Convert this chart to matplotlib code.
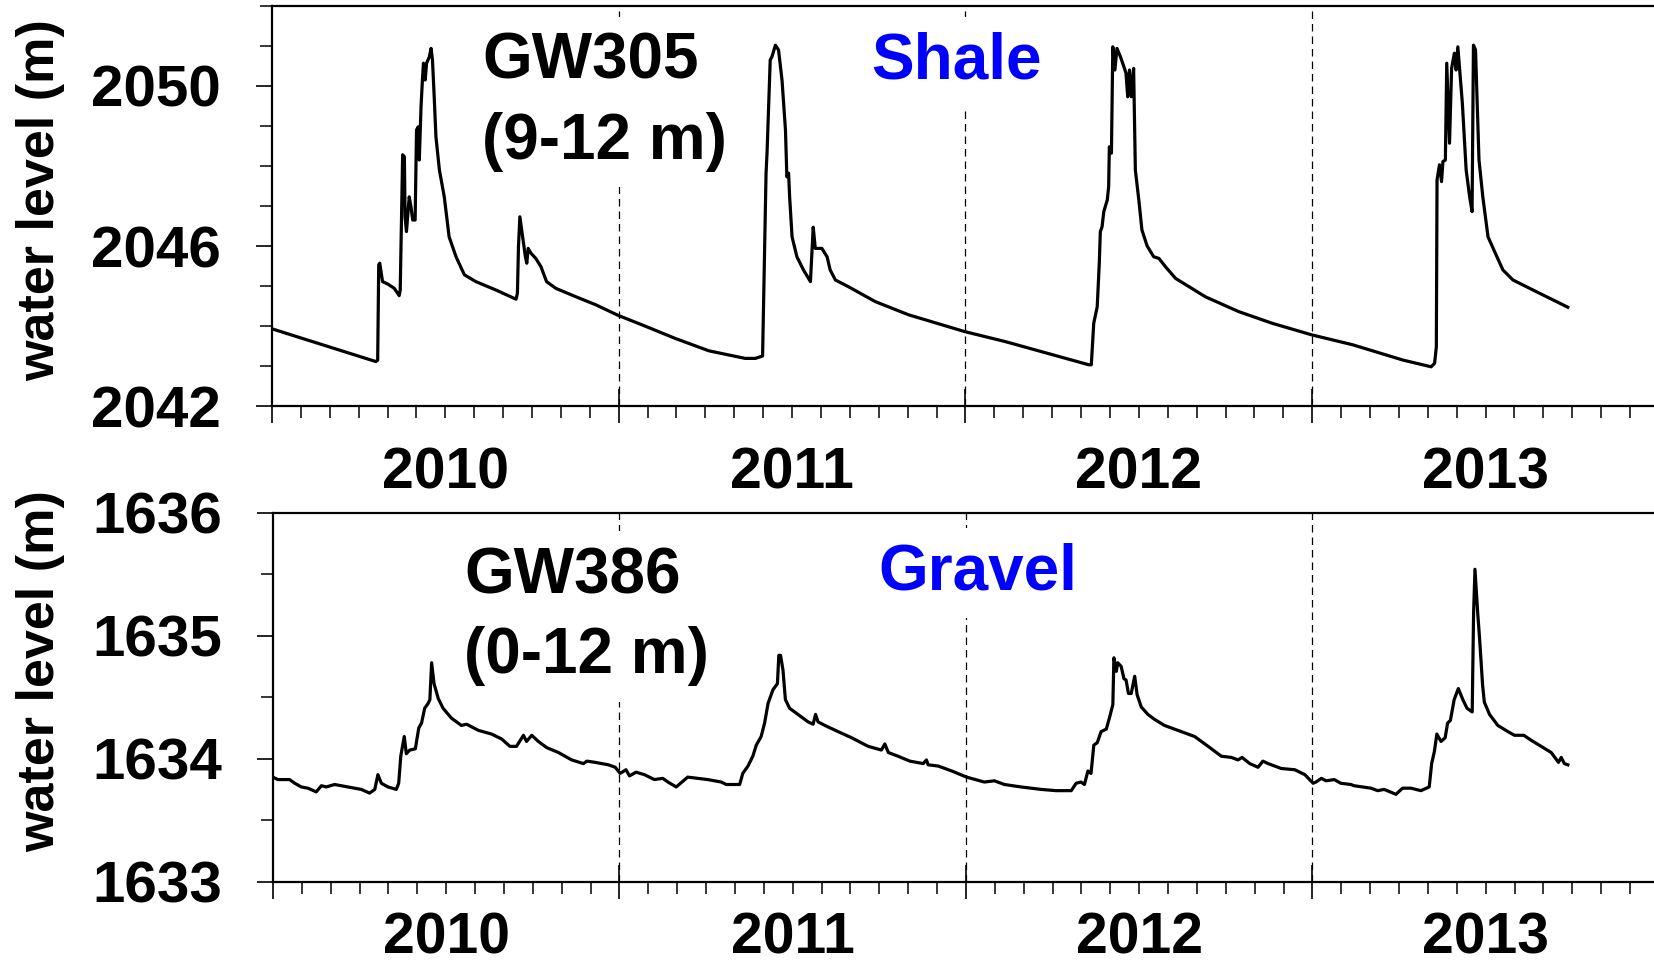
import matplotlib as mpl
import matplotlib.pyplot as plt
from matplotlib.ticker import MultipleLocator, NullFormatter, FormatStrFormatter

mpl.rcParams['font.family'] = 'Liberation Sans'
mpl.rcParams['font.weight'] = 'bold'
mpl.rcParams['axes.labelweight'] = 'bold'

# GW305 (shale, screened 9-12 m): decimal year, water level (m)
gw305_t = [
    2010.000, 2010.300, 2010.305, 2010.308, 2010.311, 2010.319, 2010.334, 2010.353, 2010.367, 2010.370,
    2010.377, 2010.382, 2010.384, 2010.388, 2010.396, 2010.401, 2010.406, 2010.413, 2010.417, 2010.422,
    2010.425, 2010.430, 2010.434, 2010.437, 2010.442, 2010.446, 2010.454, 2010.459, 2010.463, 2010.468,
    2010.473, 2010.483, 2010.497, 2010.511, 2010.531, 2010.555, 2010.588, 2010.646, 2010.704, 2010.708,
    2010.711, 2010.715, 2010.723, 2010.731, 2010.735, 2010.739, 2010.747, 2010.761, 2010.776, 2010.792,
    2010.819, 2010.877, 2010.934, 2011.000,
    2011.067, 2011.163, 2011.260, 2011.365, 2011.394, 2011.415, 2011.420, 2011.425, 2011.428, 2011.437,
    2011.442, 2011.452, 2011.461, 2011.471, 2011.481, 2011.485, 2011.490, 2011.493, 2011.500, 2011.514,
    2011.533, 2011.553, 2011.561, 2011.567, 2011.586, 2011.601, 2011.610, 2011.625, 2011.663, 2011.740,
    2011.836, 2011.932, 2011.998,
    2012.115, 2012.211, 2012.356, 2012.363, 2012.370, 2012.380, 2012.386, 2012.389, 2012.394, 2012.399,
    2012.409, 2012.413, 2012.415, 2012.421, 2012.425, 2012.431, 2012.437, 2012.447, 2012.457, 2012.463,
    2012.468, 2012.473, 2012.478, 2012.485, 2012.490, 2012.500, 2012.509, 2012.524, 2012.543, 2012.558,
    2012.577, 2012.606, 2012.692, 2012.788, 2012.884, 2012.998,
    2013.117, 2013.261, 2013.343, 2013.353, 2013.358, 2013.360, 2013.367, 2013.373, 2013.377, 2013.384,
    2013.388, 2013.396, 2013.402, 2013.410, 2013.415, 2013.420, 2013.427, 2013.433, 2013.444, 2013.454,
    2013.461, 2013.465, 2013.471, 2013.481, 2013.492, 2013.507, 2013.526, 2013.550, 2013.579, 2013.646,
    2013.737,
]
gw305_wl = [
    2043.93, 2043.11, 2043.15, 2045.53, 2045.57, 2045.11, 2045.05, 2044.94, 2044.76, 2044.90,
    2048.28, 2048.23, 2046.73, 2046.36, 2047.23, 2046.98, 2046.65, 2046.65, 2048.90, 2048.98,
    2048.15, 2049.48, 2050.15, 2050.57, 2050.15, 2050.57, 2050.73, 2050.94, 2050.65, 2049.73,
    2048.73, 2047.90, 2047.23, 2046.23, 2045.73, 2045.28, 2045.11, 2044.90, 2044.67, 2044.82,
    2045.98, 2046.73, 2046.23, 2045.73, 2045.57, 2045.94, 2045.82, 2045.69, 2045.48, 2045.11,
    2044.94, 2044.73, 2044.53, 2044.26,
    2044.03, 2043.69, 2043.38, 2043.19, 2043.19, 2043.25, 2045.57, 2047.82, 2048.36, 2050.65,
    2050.73, 2051.02, 2050.90, 2050.15, 2048.90, 2047.73, 2047.82, 2047.23, 2046.23, 2045.73,
    2045.40, 2045.11, 2046.47, 2045.94, 2045.94, 2045.73, 2045.40, 2045.15, 2044.98, 2044.61,
    2044.28, 2044.03, 2043.86,
    2043.61, 2043.38, 2043.03, 2043.03, 2044.07, 2044.48, 2045.57, 2046.36, 2046.48, 2046.86,
    2047.15, 2047.48, 2048.48, 2048.32, 2050.98, 2050.40, 2050.94, 2050.73, 2050.48, 2050.32,
    2049.73, 2050.40, 2049.73, 2050.44, 2047.90, 2047.15, 2046.40, 2046.00, 2045.73, 2045.69,
    2045.48, 2045.19, 2044.73, 2044.36, 2044.07, 2043.78,
    2043.53, 2043.15, 2042.98, 2043.07, 2043.48, 2047.65, 2048.03, 2047.61, 2048.11, 2048.15,
    2050.57, 2048.57, 2050.44, 2050.82, 2050.40, 2050.98, 2050.23, 2049.57, 2047.90, 2047.23,
    2046.86, 2051.02, 2050.90, 2048.15, 2047.23, 2046.23, 2045.86, 2045.40, 2045.15, 2044.86,
    2044.47,
]

# GW386 (gravel, screened 0-12 m)
gw386_t = [
    2010.000, 2010.014, 2010.048, 2010.063, 2010.082, 2010.101, 2010.125, 2010.140, 2010.154, 2010.178,
    2010.217, 2010.255, 2010.279, 2010.294, 2010.303, 2010.313, 2010.332, 2010.356, 2010.363, 2010.369,
    2010.379, 2010.385, 2010.395, 2010.411, 2010.421, 2010.429, 2010.438, 2010.448, 2010.453, 2010.458,
    2010.465, 2010.477, 2010.491, 2010.515, 2010.544, 2010.559, 2010.593, 2010.631, 2010.660, 2010.684,
    2010.703, 2010.723, 2010.732, 2010.747, 2010.766, 2010.790, 2010.824, 2010.862, 2010.896, 2010.906,
    2010.930, 2010.968, 2010.988, 2011.002,
    2011.019, 2011.029, 2011.048, 2011.072, 2011.101, 2011.125, 2011.140, 2011.164, 2011.197, 2011.255,
    2011.294, 2011.308, 2011.347, 2011.356, 2011.371, 2011.385, 2011.395, 2011.409, 2011.419, 2011.429,
    2011.443, 2011.456, 2011.460, 2011.465, 2011.472, 2011.479, 2011.491, 2011.515, 2011.544, 2011.559,
    2011.566, 2011.573, 2011.593, 2011.631, 2011.670, 2011.718, 2011.756, 2011.766, 2011.776, 2011.804,
    2011.838, 2011.877, 2011.886, 2011.891, 2011.920, 2011.959, 2012.002,
    2012.053, 2012.082, 2012.111, 2012.159, 2012.217, 2012.260, 2012.304, 2012.318, 2012.332, 2012.342,
    2012.352, 2012.361, 2012.369, 2012.379, 2012.390, 2012.405, 2012.414, 2012.424, 2012.427, 2012.434,
    2012.438, 2012.448, 2012.456, 2012.462, 2012.469, 2012.477, 2012.487, 2012.494, 2012.506, 2012.525,
    2012.544, 2012.573, 2012.621, 2012.660, 2012.699, 2012.737, 2012.766, 2012.785, 2012.797, 2012.819,
    2012.843, 2012.857, 2012.872, 2012.910, 2012.949, 2012.978, 2013.002,
    2013.010, 2013.026, 2013.039, 2013.063, 2013.082, 2013.111, 2013.120, 2013.169, 2013.188, 2013.207,
    2013.241, 2013.260, 2013.284, 2013.313, 2013.337, 2013.344, 2013.352, 2013.359, 2013.371, 2013.383,
    2013.390, 2013.398, 2013.409, 2013.421, 2013.434, 2013.446, 2013.461, 2013.465, 2013.469, 2013.477,
    2013.482, 2013.491, 2013.496, 2013.511, 2013.535, 2013.564, 2013.583, 2013.610, 2013.631, 2013.660,
    2013.689, 2013.710, 2013.718, 2013.727, 2013.737,
]
gw386_wl = [
    1633.85, 1633.83, 1633.83, 1633.80, 1633.77, 1633.76, 1633.73, 1633.78, 1633.77, 1633.79,
    1633.77, 1633.75, 1633.72, 1633.75, 1633.87, 1633.80, 1633.77, 1633.75, 1633.80, 1634.02,
    1634.18, 1634.04, 1634.07, 1634.08, 1634.25, 1634.29, 1634.41, 1634.45, 1634.48, 1634.78,
    1634.61, 1634.49, 1634.41, 1634.33, 1634.27, 1634.28, 1634.23, 1634.20, 1634.16, 1634.10,
    1634.10, 1634.19, 1634.14, 1634.19, 1634.14, 1634.09, 1634.05, 1633.99, 1633.96, 1633.98,
    1633.97, 1633.95, 1633.93, 1633.88,
    1633.91, 1633.86, 1633.89, 1633.87, 1633.83, 1633.84, 1633.81, 1633.77, 1633.85, 1633.83,
    1633.81, 1633.79, 1633.79, 1633.88, 1633.94, 1634.02, 1634.11, 1634.18, 1634.29, 1634.45,
    1634.56, 1634.61, 1634.84, 1634.84, 1634.72, 1634.48, 1634.41, 1634.36, 1634.30, 1634.28,
    1634.36, 1634.30, 1634.27, 1634.22, 1634.17, 1634.10, 1634.07, 1634.12, 1634.05, 1634.02,
    1633.98, 1633.96, 1633.99, 1633.95, 1633.94, 1633.90, 1633.85,
    1633.81, 1633.82, 1633.79, 1633.77, 1633.75, 1633.74, 1633.74, 1633.80, 1633.81, 1633.79,
    1633.90, 1633.88, 1634.11, 1634.13, 1634.22, 1634.24, 1634.33, 1634.44, 1634.82, 1634.71,
    1634.78, 1634.75, 1634.65, 1634.64, 1634.53, 1634.53, 1634.67, 1634.52, 1634.42, 1634.36,
    1634.32, 1634.27, 1634.22, 1634.18, 1634.10, 1634.02, 1634.01, 1633.99, 1634.01, 1633.96,
    1633.93, 1633.98, 1633.96, 1633.92, 1633.91, 1633.87, 1633.80,
    1633.81, 1633.84, 1633.82, 1633.83, 1633.80, 1633.79, 1633.78, 1633.76, 1633.74, 1633.75,
    1633.71, 1633.76, 1633.76, 1633.74, 1633.77, 1633.96, 1634.06, 1634.20, 1634.14, 1634.17,
    1634.29, 1634.31, 1634.48, 1634.57, 1634.48, 1634.41, 1634.38, 1635.18, 1635.54, 1635.18,
    1634.99, 1634.60, 1634.46, 1634.36, 1634.27, 1634.22, 1634.19, 1634.19, 1634.15, 1634.10,
    1634.05, 1633.97, 1634.01, 1633.96, 1633.95,
]

years = [2010, 2011, 2012, 2013]
gw305_yticks = [2042, 2046, 2050]
gw386_yticks = [1633, 1634, 1635, 1636]


def style_axis(ax, ylim, yticks, yminor, year_label_y):
    ax.set_xlim(2010, 2014)
    ax.set_ylim(*ylim)
    ax.spines['right'].set_visible(False)
    for side in ['left', 'bottom', 'top']:
        ax.spines[side].set_linewidth(1.6)

    # years as major ticks, months as minor
    ax.xaxis.set_major_locator(MultipleLocator(1))
    ax.xaxis.set_minor_locator(MultipleLocator(1 / 12))
    ax.xaxis.set_major_formatter(NullFormatter())
    ax.tick_params(axis='x', which='major', direction='inout', length=25, width=1.2)
    ax.tick_params(axis='x', which='minor', direction='out', length=8.6, width=1.1)

    ax.set_yticks(yticks)
    ax.yaxis.set_minor_locator(MultipleLocator(yminor))
    ax.yaxis.set_major_formatter(FormatStrFormatter('%d'))
    ax.tick_params(axis='y', which='major', direction='out', length=11.5, width=1.2,
                   pad=25, labelsize=42)
    ax.tick_params(axis='y', which='minor', direction='out', length=8.6, width=1.1)

    for yr in years[1:]:
        ax.axvline(yr, color='k', lw=0.9, ls=(0, (6, 4)), zorder=1)
    for yr in years:
        ax.text(yr + 0.5, year_label_y, str(yr), transform=ax.get_xaxis_transform(),
                ha='center', va='top', fontsize=41, clip_on=False)

    ax.set_ylabel('water level (m)', fontsize=37.5, fontweight='bold')


box = dict(boxstyle='square,pad=0.24', fc='white', ec='none')

fig = plt.figure(figsize=(16.54, 9.66), dpi=100)
ax1 = fig.add_axes([0.1644, 0.5797, 0.8386, 0.4141])
ax2 = fig.add_axes([0.1650, 0.0873, 0.8380, 0.3820])

ax1.plot(gw305_t, gw305_wl, color='k', lw=2.3, zorder=2)
style_axis(ax1, (2042, 2052), gw305_yticks, 1, -0.10)
ax1.yaxis.set_label_coords(-0.149, 0.515)
ax1.text(0.1514, 0.935, 'GW305\n(9-12 m)', transform=ax1.transAxes, ha='left', va='top',
         fontsize=46, linespacing=1.42, bbox=box, zorder=3)
ax1.text(0.432, 0.935, 'Shale', color='#0000ff', transform=ax1.transAxes, ha='left', va='top',
         fontsize=46, bbox=box, zorder=3)

ax2.plot(gw386_t, gw386_wl, color='k', lw=2.3, zorder=2)
style_axis(ax2, (1633, 1636), gw386_yticks, 0.5, -0.08)
ax2.yaxis.set_label_coords(-0.150, 0.571)
ax2.text(0.138, 0.908, 'GW386\n(0-12 m)', transform=ax2.transAxes, ha='left', va='top',
         fontsize=46, linespacing=1.42, bbox=box, zorder=3)
ax2.text(0.4365, 0.918, 'Gravel', color='#0000ff', transform=ax2.transAxes, ha='left', va='top',
         fontsize=46, bbox=box, zorder=3)

fig.savefig('out.png', dpi=100)
